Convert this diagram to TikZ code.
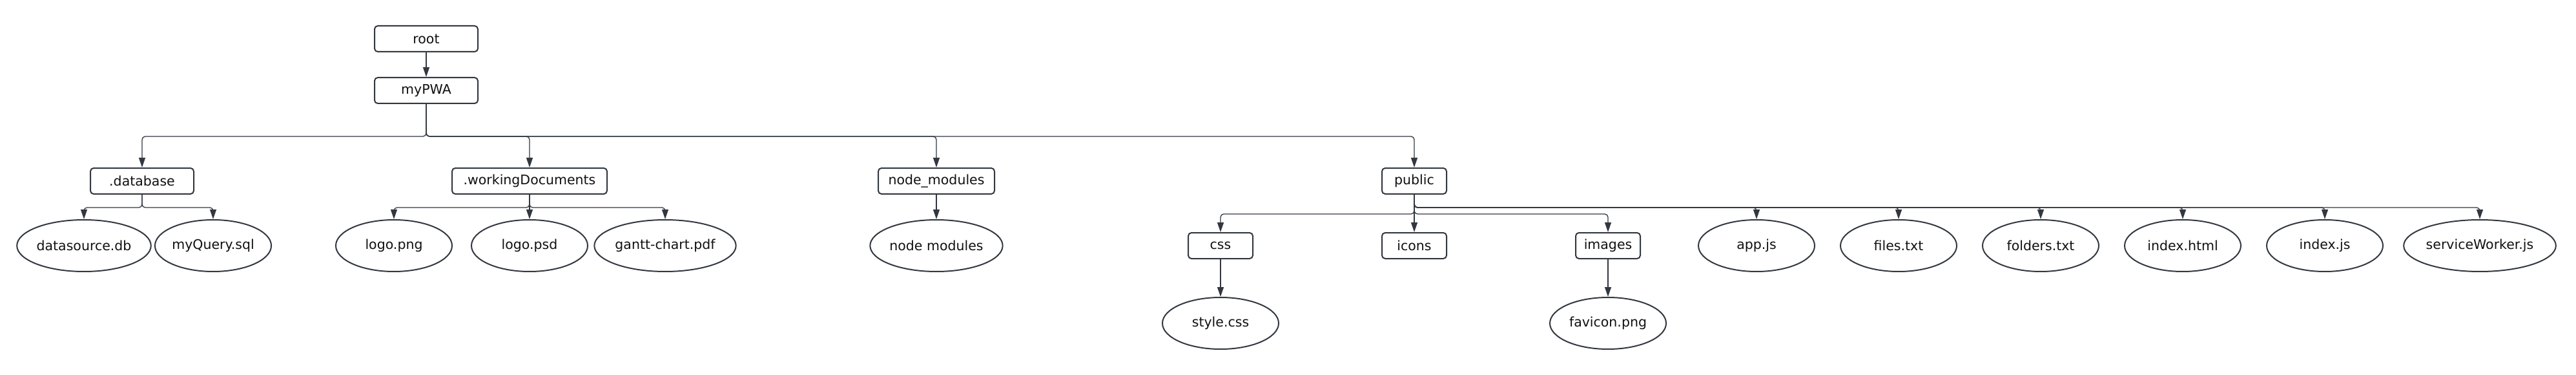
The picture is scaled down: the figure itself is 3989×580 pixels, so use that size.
\documentclass[tikz,border=0pt]{standalone}
\usepackage{fontspec}
\setmainfont{DejaVu Sans}
\usetikzlibrary{arrows.meta,shapes.geometric}
\definecolor{ln}{RGB}{51,56,64}
\definecolor{tx}{RGB}{17,17,17}
\begin{document}
\begin{tikzpicture}[x=1pt,y=-1pt,
  lbl/.style={text=tx,font=\fontsize{20.5}{24}\selectfont},
  folder/.style={lbl,draw=ln,line width=2pt,rounded corners=5pt,fill=white,
    minimum width=#1,minimum height=40pt,inner sep=0pt},
  folder/.default=160pt,
  file/.style={lbl,draw=ln,line width=2pt,ellipse,fill=white,
    minimum width=#1,minimum height=80pt,inner sep=0pt},
  file/.default=180pt,
  edge/.style={draw=ln,line width=1.3pt,rounded corners=5pt,
    -{Triangle[length=15pt,width=10pt]}}]
\useasboundingbox (0,0) rectangle (3989,580);

% folders
\node[folder] (root) at (660,60) {root};
\node[folder] (mypwa) at (660,140) {myPWA};
\node[folder] (db) at (220,280) {.database};
\node[folder=240pt] (wd) at (820,280) {.workingDocuments};
\node[folder=180pt] (nm) at (1450,280) {node\_modules};
\node[folder=100pt] (pub) at (2190,280) {public};
\node[folder=100pt] (css) at (1890,380) {css};
\node[folder=100pt] (icons) at (2190,380) {icons};
\node[folder=100pt] (images) at (2490,380) {images};

% files
\node[file] (dsdb) at (130,380) {datasource.db};
\node[file] (mq) at (330,380) {myQuery.sql};
\node[file] (lpng) at (610,380) {logo.png};
\node[file] (lpsd) at (820,380) {logo.psd};
\node[file] (gantt) at (1030,380) {gantt-chart.pdf};
\node[file] (nmod) at (1450,380) {node modules};
\node[file] (appjs) at (2720,380) {app.js};
\node[file] (files) at (2940,380) {files.txt};
\node[file] (folders) at (3160,380) {folders.txt};
\node[file] (ihtml) at (3380,380) {index.html};
\node[file] (ijs) at (3600,380) {index.js};
\node[file=220pt] (sw) at (3840,380) {serviceWorker.js};
\node[file] (stylecss) at (1890,500) {style.css};
\node[file] (favicon) at (2490,500) {favicon.png};

% connectors
\draw[edge] (root) -- (mypwa);
\foreach \c in {db,wd,nm,pub}
  \draw[edge] (mypwa.south) -- ++(0,50) -| (\c.north);
\foreach \c in {dsdb,mq}
  \draw[edge] (db.south) -- ++(0,20) -| (\c.north);
\foreach \c in {lpng,gantt}
  \draw[edge] (wd.south) -- ++(0,20) -| (\c.north);
\draw[edge] (wd) -- (lpsd);
\draw[edge] (nm) -- (nmod);
\foreach \c in {css,images}
  \draw[edge] (pub.south) -- ++(0,30) -| (\c.north);
\draw[edge] (pub) -- (icons);
\foreach \c in {appjs,files,folders,ihtml,ijs,sw}
  \draw[edge] (pub.south) -- ++(0,20) -| (\c.north);
\draw[edge] (css) -- (stylecss);
\draw[edge] (images) -- (favicon);
\end{tikzpicture}
\end{document}
